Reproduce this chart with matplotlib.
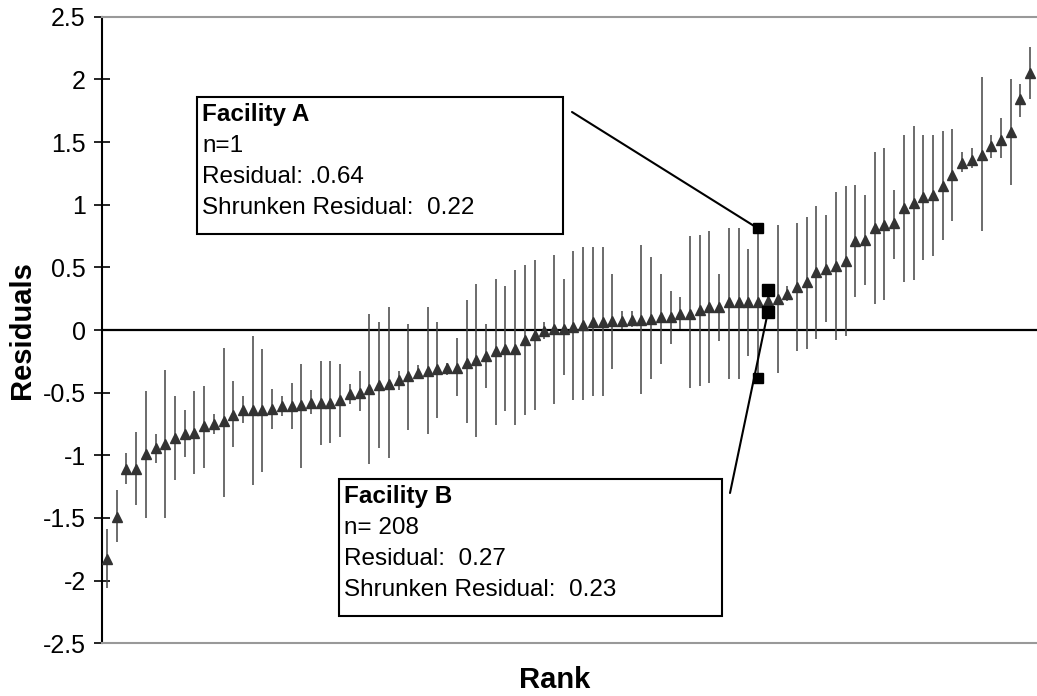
import numpy as np
import matplotlib.pyplot as plt

plt.rcParams['font.family'] = ['Liberation Sans', 'DejaVu Sans']

# Shrunken residuals for each facility, sorted by rank, with interval ends
mid = [-1.83, -1.49, -1.11, -1.11, -0.99, -0.94, -0.91, -0.86, -0.83, -0.82,
       -0.77, -0.75, -0.73, -0.68, -0.64, -0.64, -0.64, -0.63, -0.61, -0.61,
       -0.60, -0.58, -0.58, -0.58, -0.56, -0.51, -0.50, -0.47, -0.44, -0.43,
       -0.40, -0.37, -0.34, -0.33, -0.31, -0.30, -0.30, -0.26, -0.24, -0.21,
       -0.17, -0.15, -0.15, -0.08, -0.04, -0.01, 0.01, 0.01, 0.02, 0.04,
       0.06, 0.06, 0.07, 0.07, 0.08, 0.08, 0.09, 0.10, 0.10, 0.13,
       0.13, 0.16, 0.18, 0.18, 0.22, 0.22, 0.22, 0.22, 0.23, 0.25,
       0.29, 0.34, 0.38, 0.46, 0.49, 0.51, 0.55, 0.71, 0.72, 0.81,
       0.84, 0.85, 0.97, 1.01, 1.06, 1.08, 1.15, 1.24, 1.33, 1.36,
       1.40, 1.47, 1.52, 1.58, 1.84, 2.05]
lo = [-2.06, -1.69, -1.23, -1.40, -1.50, -1.06, -1.50, -1.20, -1.01, -1.15,
      -1.10, -0.83, -1.33, -0.93, -0.74, -1.24, -1.13, -0.79, -0.69, -0.79,
      -1.10, -0.67, -0.92, -0.90, -0.85, -0.59, -0.65, -1.07, -0.94, -1.02,
      -0.48, -0.80, -0.39, -0.83, -0.70, -0.36, -0.53, -0.74, -0.85, -0.46,
      -0.76, -0.65, -0.76, -0.68, -0.64, -0.07, -0.59, -0.36, -0.56, -0.56,
      -0.53, -0.53, -0.31, 0.01, 0.02, -0.51, -0.39, -0.27, -0.11, 0.01,
      -0.46, -0.45, -0.42, -0.09, -0.39, -0.39, -0.21, -0.38, 0.14, -0.34,
      0.23, -0.17, -0.15, -0.07, 0.06, -0.08, -0.05, 0.26, 0.36, 0.21,
      0.24, 0.57, 0.38, 0.40, 0.56, 0.59, 0.72, 0.87, 1.26, 1.29,
      0.79, 1.37, 1.37, 1.16, 1.70, 1.84]
hi = [-1.59, -1.28, -0.98, -0.81, -0.49, -0.83, -0.32, -0.53, -0.64, -0.49,
      -0.45, -0.67, -0.14, -0.41, -0.53, -0.05, -0.15, -0.47, -0.53, -0.42,
      -0.27, -0.48, -0.25, -0.25, -0.27, -0.43, -0.33, 0.13, 0.06, 0.18,
      -0.33, 0.05, -0.28, 0.18, 0.06, -0.26, -0.06, 0.24, 0.37, 0.05,
      0.41, 0.35, 0.48, 0.52, 0.56, 0.06, 0.60, 0.41, 0.63, 0.66,
      0.66, 0.66, 0.45, 0.15, 0.15, 0.68, 0.58, 0.45, 0.31, 0.26,
      0.75, 0.76, 0.79, 0.45, 0.81, 0.81, 0.65, 0.81, 0.32, 0.84,
      0.35, 0.85, 0.90, 0.99, 0.92, 1.10, 1.15, 1.16, 1.08, 1.42,
      1.45, 1.12, 1.56, 1.63, 1.56, 1.56, 1.59, 1.60, 1.42, 1.45,
      2.02, 1.56, 1.69, 2.00, 1.96, 2.26]

rank = np.arange(1, len(mid) + 1)
mid = np.array(mid)
lo = np.array(lo)
hi = np.array(hi)

# the two facilities called out in the boxes
rank_a, rank_b = 68, 69
text_a = ["Facility A", "n=1", "Residual: .0.64", "Shrunken Residual:  0.22"]
text_b = ["Facility B", "n= 208", "Residual:  0.27", "Shrunken Residual:  0.23"]

yticks = [2.5, 2, 1.5, 1, 0.5, 0, -0.5, -1, -1.5, -2, -2.5]
ytick_labels = ["2.5", "2", "1.5", "1", "0.5", "0", "-0.5", "-1", "-1.5", "-2", "-2.5"]

W, H = 1037, 696
fig = plt.figure(figsize=(W / 100, H / 100), dpi=100)


def px(x, y):
    # pixel position (from top left) -> figure fraction
    return x / W, 1 - y / H


ax = fig.add_axes([102 / W, 1 - 643.3 / H, (W - 102) / W, (643.3 - 16.7) / H])

ax.axhline(0, color='black', lw=1.6, zorder=1)
ax.errorbar(rank, mid, yerr=[mid - lo, hi - mid], fmt='^', color='#333333',
            ms=6.5, ecolor='#444444', elinewidth=1.1, capsize=0, zorder=3)

# interval ends for the two facilities
ax.plot([rank_a, rank_a], [lo[rank_a - 1], hi[rank_a - 1]], 's',
        color='black', ms=7.5, zorder=4)
ax.plot([rank_b, rank_b], [lo[rank_b - 1], hi[rank_b - 1]], 's',
        color='black', ms=8.5, zorder=4)

ax.set_xlim(0.49, 96.7)
ax.set_ylim(-2.5, 2.5)
ax.set_xticks([])
ax.set_yticks(yticks)
ax.set_yticklabels(ytick_labels)
ax.tick_params(axis='y', direction='inout', length=11.5, width=1.2,
               labelsize=18, pad=6)

ax.spines['right'].set_visible(False)
ax.spines['left'].set_linewidth(1.5)
ax.spines['left'].set_color('black')
for side in ['top', 'bottom']:
    ax.spines[side].set_color('#999999')
    ax.spines[side].set_linewidth(1.5)

fig.text(*px(22, 330), "Residuals", rotation=90, ha='center', va='center',
         fontsize=21, fontweight='bold')
fig.text(*px(555, 680), "Rank", ha='center', va='center',
         fontsize=21, fontweight='bold')

# callout boxes
for (bx0, by0, bx1, by1) in [(197, 97, 563, 234), (339, 479, 722, 616)]:
    x0, y0 = px(bx0, by1)
    x1, y1 = px(bx1, by0)
    fig.patches.append(plt.Rectangle((x0, y0), x1 - x0, y1 - y0,
                                     transform=fig.transFigure, fill=True,
                                     facecolor='white', edgecolor='black',
                                     lw=1.5, zorder=5))

for lines, (tx, ty) in [(text_a, (202, 121.5)), (text_b, (344, 503.5))]:
    for i, s in enumerate(lines):
        fig.text(*px(tx, ty + i * 30.8), s, ha='left', va='baseline',
                 fontsize=17.5, fontweight='bold' if i == 0 else 'normal',
                 zorder=6)

# pointer lines from the boxes to the interval ends
ax.annotate("", xy=(rank_a, hi[rank_a - 1]), xycoords='data',
            xytext=px(572, 112), textcoords='figure fraction',
            arrowprops=dict(arrowstyle='-', lw=1.5, color='black',
                            shrinkA=0, shrinkB=0))
ax.annotate("", xy=(rank_b, lo[rank_b - 1]), xycoords='data',
            xytext=px(730, 493), textcoords='figure fraction',
            arrowprops=dict(arrowstyle='-', lw=1.5, color='black',
                            shrinkA=0, shrinkB=0))

fig.savefig("out.png", dpi=100)
